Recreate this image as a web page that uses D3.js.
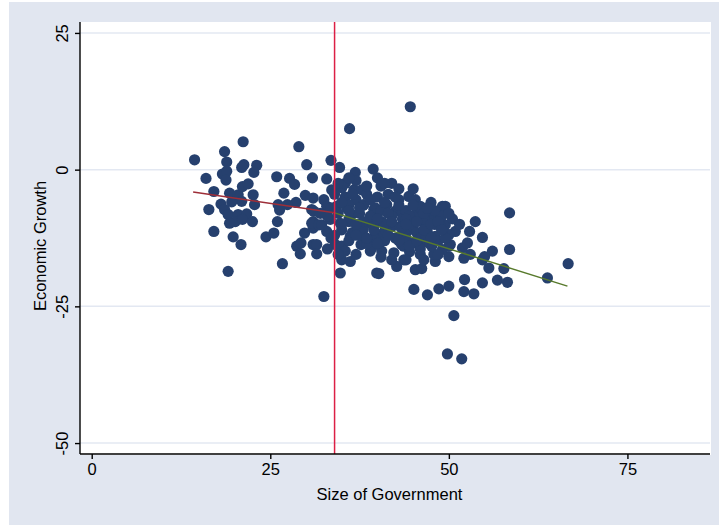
<!DOCTYPE html>
<html>
<head>
<meta charset="utf-8">
<script src="https://cdn.jsdelivr.net/npm/d3@7"></script>
<style>
  body { margin: 0; background: #fff; }
  svg { display: block; font-family: "Liberation Sans", Arial, sans-serif; }
</style>
</head>
<body>
<svg id="chart" width="719" height="525"></svg>
<script>
// Data
const govSize = [
  14.4, 18.6, 21.2, 18.9, 18.3, 18.9, 18.8, 16.0, 21.3, 21.0, 23.1, 22.7, 25.9, 27.7, 28.4, 29.0, 30.1, 30.9,
  26.9, 29.9, 28.6, 27.4, 26.1, 26.3, 26.0, 17.1, 18.1, 18.6, 16.4, 19.3, 20.5, 21.1, 21.9, 22.6, 21.0, 22.8,
  19.6, 19.1, 20.5, 21.7, 20.1, 21.1, 22.5, 19.3, 17.1, 19.8, 20.9, 24.4, 25.5, 29.8, 28.7, 29.3, 29.2, 26.7,
  19.1, 31.0, 30.8, 31.0, 31.0, 31.0, 32.5, 33.5, 34.7, 36.1, 36.9, 39.4, 32.9, 33.6, 35.0, 36.7, 37.8, 32.5,
  32.9, 31.1, 34.3, 35.7, 38.1, 39.5, 30.8, 31.8, 32.9, 33.4, 34.8, 36.0, 37.6, 39.0, 34.1, 35.0, 31.5, 31.5,
  35.0, 36.2, 34.8, 37.7, 39.0, 39.9, 36.2, 37.8, 44.6, 44.4, 45.3, 49.1, 39.7, 41.3, 42.5, 43.5, 45.3, 46.0,
  47.2, 48.1, 44.8, 46.7, 40.6, 42.0, 43.2, 38.8, 36.4, 32.2, 40.2, 41.1, 43.4, 49.5, 58.5, 53.7, 50.9, 52.9,
  49.8, 54.7, 49.5, 46.0, 56.1, 58.5, 66.7, 63.8, 57.7, 56.8, 58.2, 55.6, 54.7, 52.2, 52.1, 53.5, 50.0, 48.6,
  47.0, 45.1, 45.3, 46.2, 40.2, 48.1, 47.9, 50.0, 52.1, 53.0, 54.7, 42.3, 42.7, 43.7, 42.0, 50.0, 51.9, 52.6,
  48.8, 50.0, 48.1, 46.7, 45.1, 43.7, 47.6, 49.1, 50.7, 49.8, 51.8, 35.5, 39.2, 40.6, 43.4, 44.4, 47.2, 55.0,
  50.2, 35.5, 37.0, 38.5, 40.0, 41.5, 43.0, 34.5, 36.0, 37.5, 39.0, 40.5, 42.0, 43.5, 45.0, 46.5, 48.0, 35.0,
  36.5, 38.0, 39.5, 41.0, 42.5, 44.0, 45.5, 47.0, 38.0, 39.5, 41.0, 44.0, 46.0, 33.0, 34.0, 35.5, 37.0, 38.5,
  40.5, 42.0, 43.0, 45.0, 36.0, 33.5, 34.5, 37.0, 33.0, 38.5, 40.5, 44.5, 46.0, 48.5, 49.0, 50.5, 47.5, 43.0,
  35.0, 36.5, 37.5, 39.0, 40.0, 41.5, 42.5, 43.5, 44.5, 45.5, 46.5, 47.5, 48.5, 49.5, 36.0, 37.0, 38.5, 40.0,
  41.5, 43.0, 44.5, 46.0, 47.5, 49.0, 35.0, 36.0, 38.0, 39.5, 42.0, 44.0, 45.0, 46.5, 48.0, 41.0, 37.0, 34.0,
  33.5, 32.0, 34.5, 36.0, 40.0, 41.0, 44.0, 45.5, 47.0, 50.0, 51.5, 48.5, 46.5, 44.0
];
const growth = [
  1.8, 3.3, 5.1, 1.4, -0.8, -0.3, -1.9, -1.6, 0.9, 0.4, 0.8, -0.5, -1.3, -1.6, -2.7, 4.2, 0.9, -1.5,
  -4.3, -4.7, -6.0, -6.4, -6.4, -7.4, -9.5, -4.0, -6.3, -7.3, -7.3, -4.3, -4.6, -3.1, -2.6, -4.6, -5.8, -6.4,
  -5.9, -8.2, -8.2, -8.1, -9.5, -9.1, -9.5, -9.8, -11.3, -12.3, -13.7, -12.3, -11.6, -11.6, -14.0, -13.4, -15.4, -17.2,
  -18.6, -5.2, -7.3, -9.5, -10.7, -13.7, -23.2, 1.7, 0.4, 7.5, -0.5, 0.1, -1.7, -3.7, -3.3, -3.7, -3.7, -5.5,
  -6.7, -7.6, -6.7, -7.0, -6.4, -7.3, -9.8, -10.1, -11.3, -9.1, -9.8, -9.1, -10.4, -9.8, -13.7, -14.0, -13.7, -15.4,
  -16.5, -16.8, -18.9, -13.7, -14.9, -18.9, -12.2, -11.9, 11.5, -4.9, -5.5, -6.7, -7.0, -6.4, -7.6, -7.9, -8.2, -7.0,
  -8.8, -8.8, -9.8, -10.4, -9.5, -10.4, -10.4, -9.5, -8.2, -10.1, -11.9, -11.0, -11.9, -6.7, -7.9, -9.5, -11.3, -11.3,
  -11.9, -12.4, -10.1, -6.7, -14.9, -14.6, -17.2, -19.8, -18.1, -20.2, -20.6, -18.0, -20.7, -20.1, -22.3, -22.7, -21.3, -21.8,
  -22.9, -21.9, -18.3, -18.1, -19.0, -16.8, -15.5, -15.9, -16.2, -15.5, -16.5, -15.2, -17.7, -16.5, -16.5, -14.0, -14.3, -13.4,
  -10.4, -11.9, -12.2, -13.1, -13.4, -14.0, -14.0, -14.6, -26.7, -33.7, -34.6, -14.9, -14.3, -14.9, -13.7, -11.0, -13.4, -15.9,
  -13.7, -5.0, -5.5, -4.5, -5.0, -4.5, -5.5, -8.0, -9.5, -8.0, -8.5, -7.5, -8.5, -9.0, -10.5, -9.0, -10.0, -11.0,
  -11.5, -11.0, -12.5, -13.0, -12.5, -12.5, -11.5, -11.5, -6.5, -10.5, -10.0, -7.5, -12.5, -8.5, -4.5, -2.5, -2.0, -3.0,
  -3.0, -2.5, -3.5, -3.5, -6.5, -12.5, -15.5, -15.5, -14.5, -13.5, -16.0, -15.0, -15.5, -13.0, -8.5, -9.0, -6.0, -6.5,
  -6.0, -4.5, -7.0, -5.5, -9.0, -8.0, -5.0, -10.5, -8.5, -9.5, -11.0, -10.0, -9.5, -12.5, -13.0, -12.0, -12.5, -13.5,
  -12.0, -13.0, -14.0, -14.5, -12.5, -11.0, -10.0, -7.5, -9.5, -11.0, -9.5, -9.0, -6.5, -8.0, -7.5, -6.0, -10.0, -12.0,
  -7.0, -8.0, -2.5, -1.5, -1.5, -2.5, -10.0, -13.0, -7.0, -8.0, -10.0, -15.5, -16.5, -16.5
];
const cutoff = 34;
const fitLeft = [[14.2, -4.1], [34, -7.9]];
const fitRight = [[34, -7.9], [66.6, -21.3]];
const xTicks = [0, 25, 50, 75];
const yTicks = [25, 0, -25, -50];
const xTitle = 'Size of Government';
const yTitle = 'Economic Growth';

const svg = d3.select('#chart');
const W = 719, H = 525;
const plot = {left: 80, top: 22, right: 711, bottom: 454};
const fs = 16.5;

// outer background
svg.append('rect').attr('x', 9).attr('y', 2).attr('width', W - 9).attr('height', H - 2)
  .attr('fill', '#e1e6f0');
svg.append('rect').attr('x', plot.left).attr('y', plot.top)
  .attr('width', plot.right - plot.left).attr('height', plot.bottom - plot.top + 1)
  .attr('fill', '#fff');

const x = d3.scaleLinear().domain([-1.64, 86.7]).range([plot.left, plot.right]);
const y = d3.scaleLinear().domain([27.0, -52.0]).range([plot.top, plot.bottom]);

// gridlines
svg.append('g').selectAll('line').data(yTicks).join('line')
  .attr('x1', plot.left).attr('x2', plot.right - 1)
  .attr('y1', d => y(d)).attr('y2', d => y(d))
  .attr('stroke', '#e3e8f2').attr('stroke-width', 1.5);

// points
const pts = govSize.map((g, i) => [g, growth[i]]);
svg.append('g').selectAll('circle').data(pts).join('circle')
  .attr('cx', d => x(d[0])).attr('cy', d => y(d[1])).attr('r', 5.6)
  .attr('fill', '#26406e');

// fit lines
const line = d3.line().x(d => x(d[0])).y(d => y(d[1]));
svg.append('path').attr('d', line(fitLeft)).attr('fill', 'none')
  .attr('stroke', '#9e2e38').attr('stroke-width', 1.5);
svg.append('path').attr('d', line(fitRight)).attr('fill', 'none')
  .attr('stroke', '#587a2c').attr('stroke-width', 1.5);

// cutoff line
svg.append('line').attr('x1', x(cutoff)).attr('x2', x(cutoff))
  .attr('y1', plot.top).attr('y2', plot.bottom)
  .attr('stroke', '#dc1f45').attr('stroke-width', 1.5);

// axes
const fmt = d => String(d);
const xAxis = d3.axisBottom(x).tickValues(xTicks).tickFormat(fmt).tickSize(5).tickPadding(4);
const gx = svg.append('g').attr('transform', `translate(0,${plot.bottom})`).call(xAxis);
gx.select('.domain').attr('d', `M${plot.left},0H${plot.right - 1}`).attr('stroke', '#000').attr('stroke-width', 1.4);
gx.selectAll('.tick line').attr('stroke', '#000').attr('stroke-width', 1.4);
gx.selectAll('.tick text').attr('font-size', fs).attr('fill', '#000')
  .attr('font-family', '"Liberation Sans", Arial, sans-serif');

const yAxis = d3.axisLeft(y).tickValues(yTicks).tickFormat(fmt).tickSize(5).tickPadding(4);
const gy = svg.append('g').attr('transform', `translate(${plot.left},0)`).call(yAxis);
gy.select('.domain').attr('d', `M0,${plot.top}V${plot.bottom}`).attr('stroke', '#000').attr('stroke-width', 1.4);
gy.selectAll('.tick line').attr('stroke', '#000').attr('stroke-width', 1.4);
gy.selectAll('.tick text')
  .attr('font-size', fs).attr('fill', '#000')
  .attr('font-family', '"Liberation Sans", Arial, sans-serif')
  .attr('x', null).attr('dy', null)
  .attr('text-anchor', 'middle')
  .attr('transform', 'translate(-12,0) rotate(-90)');

// titles
svg.append('text').attr('x', (plot.left + plot.right) / 2 - 6).attr('y', 500)
  .attr('text-anchor', 'middle').attr('font-size', fs).text(xTitle);
svg.append('text').attr('transform', `translate(46,${(plot.top + plot.bottom) / 2 + 8}) rotate(-90)`)
  .attr('text-anchor', 'middle').attr('font-size', fs).text(yTitle);
</script>
</body>
</html>
